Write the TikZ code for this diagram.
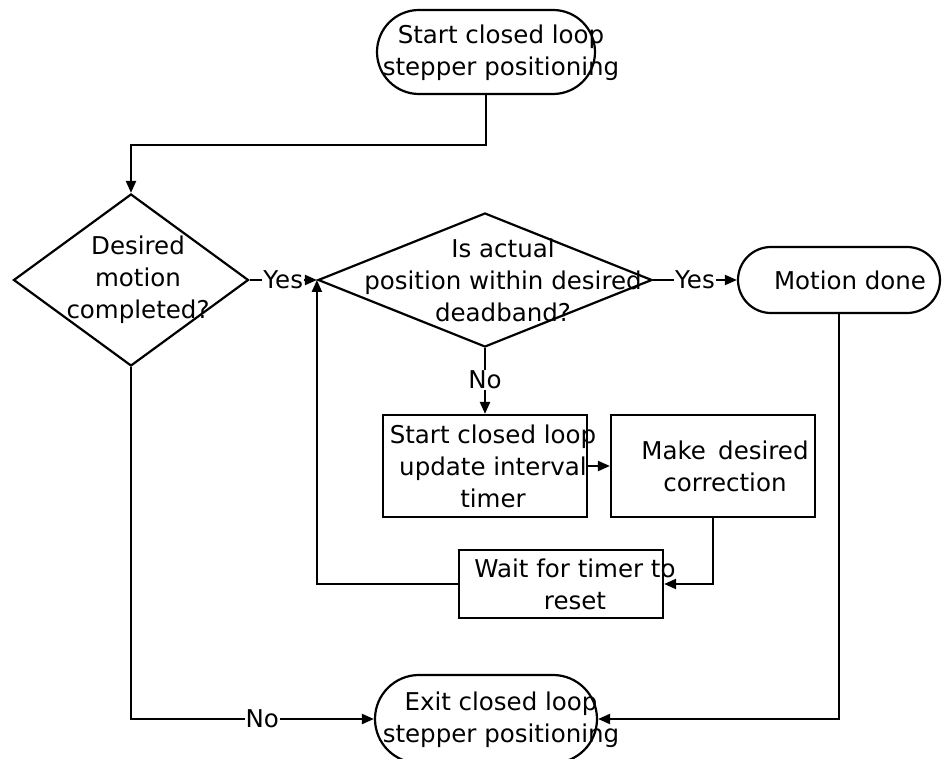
\documentclass[tikz,border=0pt]{standalone}
\usepackage{fontspec}
\setmainfont{DejaVu Sans}
\usetikzlibrary{shapes.geometric,arrows.meta}
\begin{document}
\begin{tikzpicture}[x=1pt,y=-1pt,
  every node/.style={font=\fontsize{24.5}{32}\selectfont},
  conn/.style={line width=2.2pt,-{Triangle[length=12pt,width=10pt]}},
  term/.style={draw,line width=2.2pt,rectangle,inner sep=0pt},
  dec/.style={draw,line width=2.2pt,diamond,inner sep=0pt},
  proc/.style={draw,line width=2.2pt,rectangle,inner sep=0pt},
  txt/.style={align=center,inner sep=0pt},
  lbl/.style={fill=white,inner sep=1pt}]
\useasboundingbox (0,0) rectangle (943,759);

% shapes
\node[term,rounded corners=42pt,minimum width=218pt,minimum height=84pt] (start) at (486,52) {};
\node[dec,minimum width=235pt,minimum height=172pt] (d1) at (131,280) {};
\node[dec,minimum width=334pt,minimum height=134pt] (d2) at (485,280) {};
\node[term,rounded corners=33pt,minimum width=202pt,minimum height=66pt] (done) at (839,280) {};
\node[proc,minimum width=204pt,minimum height=102pt] (timer) at (485,466) {};
\node[proc,minimum width=204pt,minimum height=102pt] (corr) at (713,466) {};
\node[proc,minimum width=204pt,minimum height=68pt] (wait) at (561,584) {};
\node[term,rounded corners=44pt,minimum width=222pt,minimum height=88pt] (exit) at (486,719) {};

% texts
\node[txt] (tstart) at (501,53) {Start closed loop\\stepper positioning};
\node[txt] (td1) at (138,280) {Desired\\motion\\completed?};
\node[txt] (td2) at (503,280) {Is actual\\position within desired\\deadband?};
\node[txt] (tdone) at (850,280) {Motion done};
\node[txt] (ttimer) at (493,466) {Start closed loop\\update interval\\timer};
\node[txt] (tcorr) at (725,466) {Make\enspace desired\\correction};
\node[txt] (twait) at (575,584) {Wait for timer to\\reset};
\node[txt] (texit) at (501,720) {Exit closed loop\\stepper positioning};

% connectors
\draw[conn] (start.south) -- ++(0,50) -| (d1.north);
\draw[conn] (d1.east) -- node[lbl] (y1) {Yes} (d2.west);
\draw[conn] (d2.east) -- node[lbl] (y2) {Yes} (done.west);
\draw[conn] (d2.south) -- node[lbl,pos=0.48] (n1) {No} (timer.north);
\draw[conn] (timer.east) -- (corr.west);
\draw[conn] (corr.south) |- (wait.east);
\draw[conn] (wait.west) -| (d2.west);
\draw[conn] (d1.south) |- node[lbl,pos=0.77] (n2) {No} (exit.west);
\draw[conn] (done.south) |- (exit.east);
\end{tikzpicture}
\end{document}
